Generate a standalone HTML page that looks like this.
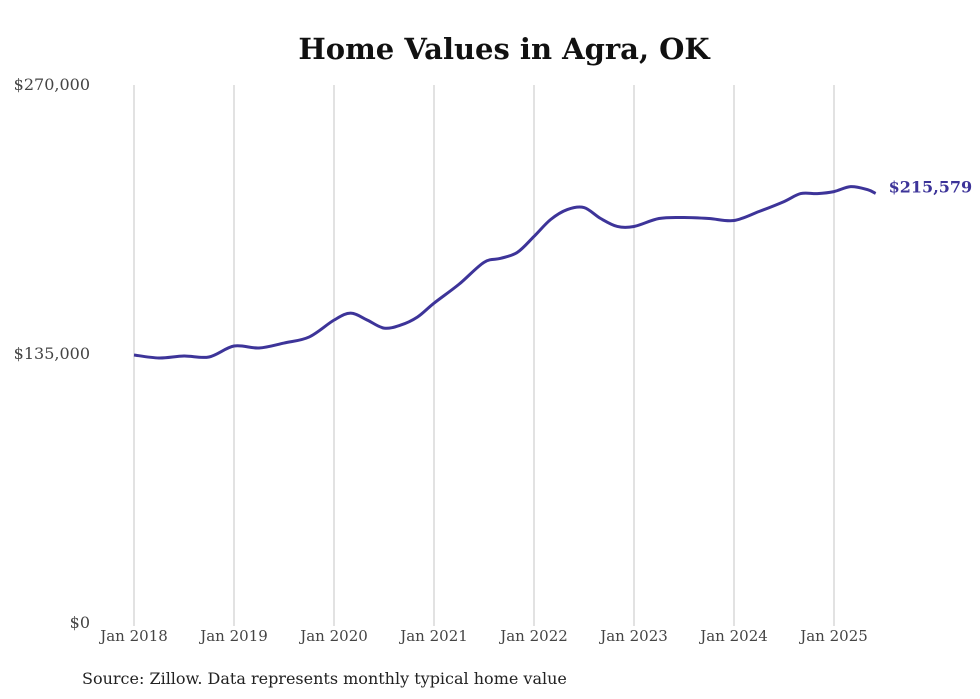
<!DOCTYPE html>
<html><head><meta charset="utf-8"><style>
body{margin:0;background:#fff;}
svg{display:block;font-family:"DejaVu Serif","Liberation Serif",serif;}
</style></head><body>
<svg id="chart" width="980" height="699">
<text x="504" y="59" text-anchor="middle" font-size="29" font-weight="bold" fill="#111">Home Values in Agra, OK</text>
<g id="grid"></g>
<g id="yaxis"></g>
<g id="xaxis"></g>
<path id="line" fill="none" stroke="#3d3499" stroke-width="3" stroke-linejoin="round"/>
<text id="endlabel" font-size="16" font-weight="bold" fill="#3d3499"></text>
<text x="82" y="684" font-size="16" fill="#222">Source: Zillow. Data represents monthly typical home value</text>
</svg>
<script>
const months=[0,3,6,9,12,15,18,21,24,26,28,30,32,34,36,39,42,44,46,48,50,52,54,56,58,60,63,66,69,72,75,78,80,82,84,86,88,89];
const values=[134500,133000,134000,133500,139000,138000,140500,143500,152000,155500,152000,148000,149500,153500,160500,170000,181000,183000,186000,194000,202500,207500,208500,203000,199000,199000,203000,203500,203000,202000,206500,211500,215500,215500,216500,219000,217500,215579];
const yTicks=[0,135000,270000];
const yTickLabels=["$0","$135,000","$270,000"];
const xTickYears=[2018,2019,2020,2021,2022,2023,2024,2025];
const NS="http://www.w3.org/2000/svg";
const x=m=>134+m*100/12;
const y=v=>623-v/270000*538;
const grid=document.getElementById('grid'),xa=document.getElementById('xaxis'),ya=document.getElementById('yaxis');
xTickYears.forEach((yr,i)=>{
  const gx=x((yr-2018)*12);
  const l=document.createElementNS(NS,'line');
  l.setAttribute('x1',gx);l.setAttribute('x2',gx);l.setAttribute('y1',85);l.setAttribute('y2',626);
  l.setAttribute('stroke','#c4c4c4');l.setAttribute('stroke-width','1');
  
  
  grid.appendChild(l);
  const t=document.createElementNS(NS,'text');
  t.setAttribute('x',gx);t.setAttribute('y',641);t.setAttribute('text-anchor','middle');
  t.setAttribute('font-size','15');t.setAttribute('fill','#444');
  t.textContent='Jan '+yr;
  
  
  xa.appendChild(t);
});
yTicks.forEach((v,i)=>{
  const t=document.createElementNS(NS,'text');
  t.setAttribute('x',90);t.setAttribute('y',y(v)+5);t.setAttribute('text-anchor','end');
  t.setAttribute('font-size','16');t.setAttribute('fill','#444');
  t.textContent=yTickLabels[i];
  
  
  ya.appendChild(t);
});
const pts=months.map((m,i)=>[x(m),y(values[i])]);
let d='M'+pts[0][0]+','+pts[0][1];
for(let i=0;i<pts.length-1;i++){
  const p0=pts[Math.max(0,i-1)],p1=pts[i],p2=pts[i+1],p3=pts[Math.min(pts.length-1,i+2)];
  const c1=[p1[0]+(p2[0]-p0[0])/6,p1[1]+(p2[1]-p0[1])/6];
  const c2=[p2[0]-(p3[0]-p1[0])/6,p2[1]-(p3[1]-p1[1])/6];
  d+=`C${c1[0]},${c1[1]} ${c2[0]},${c2[1]} ${p2[0]},${p2[1]}`;
}
document.getElementById('line').setAttribute('d',d);
const last=pts[pts.length-1];
const el=document.getElementById('endlabel');
el.setAttribute('x',last[0]+13);el.setAttribute('y',last[1]-1);
el.textContent='$'+values[values.length-1].toLocaleString('en-US');
</script>
</body></html>
